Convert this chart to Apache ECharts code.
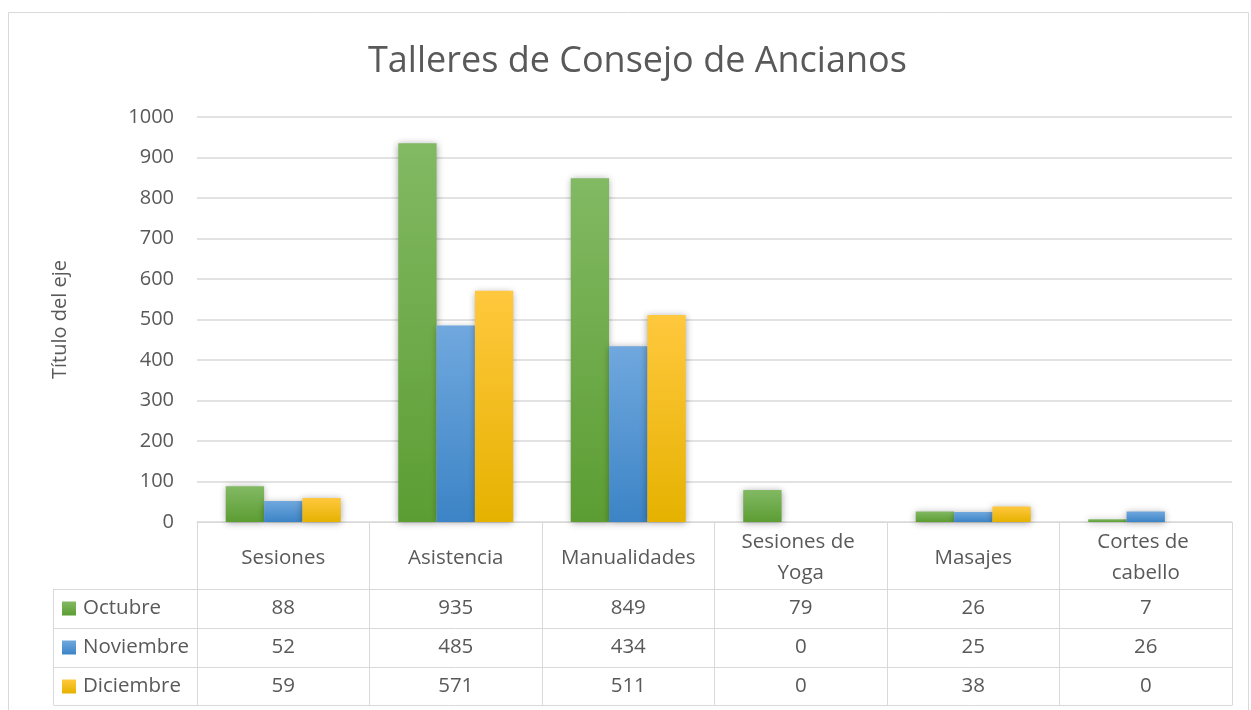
<!DOCTYPE html>
<html>
<head>
<meta charset="utf-8">
<script src="https://cdn.jsdelivr.net/npm/echarts@6/dist/echarts.min.js"></script>
<style>
  html, body { margin: 0; padding: 0; background: #ffffff; }
  #chart { width: 1251px; height: 710px; }
</style>
</head>
<body>
<div id="chart"></div>
<script>
const titleText = 'Talleres de Consejo de Ancianos';
const axisTitle = 'Título del eje';
const categories = ['Sesiones', 'Asistencia', 'Manualidades', 'Sesiones de Yoga', 'Masajes', 'Cortes de cabello'];
const seriesNames = ['Octubre', 'Noviembre', 'Diciembre'];
const octubre = [88, 935, 849, 79, 26, 7];
const noviembre = [52, 485, 434, 0, 25, 26];
const diciembre = [59, 571, 511, 0, 38, 0];
const yTicks = [0, 100, 200, 300, 400, 500, 600, 700, 800, 900, 1000];

const allValues = [octubre, noviembre, diciembre];
const FONT = '"Open Sans", sans-serif';
const TXT = '#595959';
const LINE = '#d9d9d9';

function grad(top, bottom) {
  return new echarts.graphic.LinearGradient(0, 0, 0, 1, [
    { offset: 0, color: top }, { offset: 1, color: bottom }
  ]);
}
const fills = [
  grad('#82b963', '#5c9d33'),
  grad('#70a8de', '#3c84c6'),
  grad('#ffc83e', '#e6b200')
];

const gridLeft = 197, gridRight = 1232, gridTop = 117, gridBottom = 522;
const rowLines = [589, 628, 667, 705];

const chart = echarts.init(document.getElementById('chart'), null, { renderer: 'canvas' });

const xAxes = [{
  type: 'category',
  data: categories,
  position: 'bottom',
  axisLine: { show: true, lineStyle: { color: LINE, width: 1 } },
  axisTick: { show: true, length: rowLines[3] - gridBottom, interval: 0, lineStyle: { color: LINE, width: 1 } },
  axisLabel: {
    interval: 0, margin: 36, verticalAlign: 'middle',
    width: 150, overflow: 'break', lineHeight: 31,
    fontFamily: FONT, fontSize: 20.5, color: TXT
  },
  splitLine: { show: false }
}];
allValues.forEach((vals, i) => {
  xAxes.push({
    type: 'category',
    data: categories,
    position: 'bottom',
    offset: rowLines[i] - gridBottom,
    axisLine: { show: true, lineStyle: { color: LINE, width: 1 } },
    axisTick: { show: false },
    axisLabel: {
      interval: 0, margin: 19.5, verticalAlign: 'middle',
      fontFamily: FONT, fontSize: 20.5, color: TXT,
      formatter: (v, idx) => String(vals[idx])
    }
  });
});
xAxes.push({
  type: 'category',
  data: categories,
  position: 'bottom',
  offset: rowLines[3] - gridBottom,
  axisLine: { show: true, lineStyle: { color: LINE, width: 1 } },
  axisTick: { show: false },
  axisLabel: { show: false }
});

const legends = seriesNames.map((n, i) => ({
  data: [{ name: n, icon: 'rect' }],
  orient: 'vertical',
  left: 62,
  top: rowLines[i] + 9,
  itemWidth: 14, itemHeight: 14, itemGap: 0,
  padding: 0,
  selectedMode: false,
  textStyle: { fontFamily: FONT, fontSize: 20.5, color: TXT, padding: [0, 0, 0, 2], lineHeight: 20 }
}));

const graphics = [
  { type: 'rect', shape: { x: 8.5, y: 12.5, width: 1240, height: 720 }, style: { fill: 'none', stroke: LINE, lineWidth: 1 }, silent: true },
  { type: 'line', shape: { x1: 53.5, y1: rowLines[0], x2: 53.5, y2: rowLines[3] }, style: { stroke: LINE, lineWidth: 1 }, silent: true }
];
rowLines.forEach(y => {
  graphics.push({ type: 'line', shape: { x1: 53.5, y1: y + 0.5, x2: gridLeft, y2: y + 0.5 }, style: { stroke: LINE, lineWidth: 1 }, silent: true });
});

const option = {
  backgroundColor: '#ffffff',
  animation: false,
  title: {
    text: titleText,
    left: 363,
    top: 39,
    textStyle: { fontFamily: FONT, fontSize: 36, fontWeight: 'normal', color: TXT }
  },
  legend: legends,
  grid: { left: gridLeft, right: 1251 - gridRight, top: gridTop, bottom: 710 - gridBottom, containLabel: false },
  xAxis: xAxes,
  yAxis: {
    type: 'value',
    min: yTicks[0], max: yTicks[yTicks.length - 1], interval: 100,
    name: axisTitle,
    nameLocation: 'middle',
    nameGap: 127,
    nameRotate: 90,
    nameTextStyle: { fontFamily: FONT, fontSize: 20, color: TXT },
    axisLine: { show: false },
    axisTick: { show: false },
    axisLabel: { margin: 23, fontFamily: FONT, fontSize: 20, color: TXT, formatter: v => String(v) },
    splitLine: { show: true, lineStyle: { color: LINE, width: 1.5 } }
  },
  series: seriesNames.map((n, i) => ({
    name: n,
    type: 'bar',
    data: allValues[i],
    barGap: '0%',
    barCategoryGap: '33.33%',
    itemStyle: {
      color: fills[i],
      shadowBlur: 7, shadowColor: 'rgba(0,0,0,0.35)', shadowOffsetX: 0, shadowOffsetY: 1
    }
  })),
  graphic: graphics
};
chart.setOption(option);
</script>
</body>
</html>
